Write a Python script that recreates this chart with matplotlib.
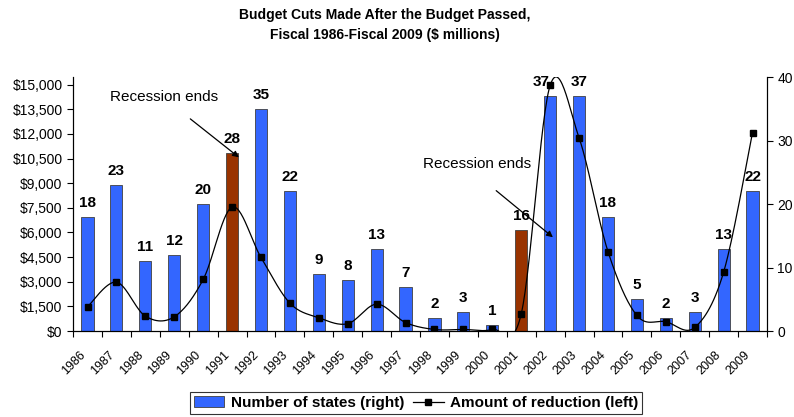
import numpy as np
import matplotlib
matplotlib.use("Agg")
import matplotlib.pyplot as plt
from matplotlib.ticker import FuncFormatter, FixedLocator
from matplotlib.lines import Line2D

plt.rcParams["font.family"] = ["Liberation Sans", "DejaVu Sans"]

years = [str(y) for y in range(1986, 2010)]
num_states = [18, 23, 11, 12, 20, 28, 35, 22, 9, 8, 13, 7,
              2, 3, 1, 16, 37, 37, 18, 5, 2, 3, 13, 22]
reduction = [1480, 2980, 910, 870, 3140, 7540, 4480, 1700, 810, 450, 1640, 520,
             100, 100, 100, 1050, 14950, 11760, 4840, 950, 570, 220, 3590, 12080]
recession_years = ["1991", "2001"]

BLUE = "#3366FF"
BROWN = "#993300"


def smooth(xs, ys, n=30):
    # Excel-style smoothed line: cubic bezier through the points
    pts = np.column_stack([xs, ys]).astype(float)
    p = np.vstack([pts[0], pts, pts[-1]])
    out = []
    for i in range(1, len(p) - 2):
        p0, p1, p2, p3 = p[i - 1], p[i], p[i + 1], p[i + 2]
        c1 = p1 + (p2 - p0) / 6
        c2 = p2 - (p3 - p1) / 6
        t = np.linspace(0, 1, n)[:, None]
        seg = ((1 - t) ** 3) * p1 + 3 * ((1 - t) ** 2) * t * c1 + 3 * (1 - t) * t ** 2 * c2 + t ** 3 * p2
        out.append(seg if i == 1 else seg[1:])
    out = np.vstack(out)
    return out[:, 0], out[:, 1]


fig = plt.figure(figsize=(7.94, 4.17), dpi=100)
ax = fig.add_axes([0.092, 0.206, 0.874, 0.609])
x = np.arange(len(years))

colors = [BROWN if y in recession_years else BLUE for y in years]
bars = ax.bar(x, num_states, width=0.42, color=colors, edgecolor="#404040", linewidth=0.6)
labels = ax.bar_label(bars, padding=5, fontsize=11, fontweight="bold")
labels[years.index("2002")].xyann = (-6.5, 5)  # nudged left like the original
ax.set_ylim(0, 40)
ax.set_xlim(-0.5, len(years) - 0.5)

ax2 = ax.twinx()
sx, sy = smooth(x, reduction)
ax2.plot(sx, sy, color="black", linewidth=0.9)
ax2.plot(x, reduction, linestyle="none", marker="s", markersize=4.5, color="black")
ax2.set_ylim(0, 15450)

# bars read on the right axis, dollars on the left
ax.yaxis.tick_right()
ax2.yaxis.tick_left()
ax.set_yticks([0, 10, 20, 30, 40])
ax2.set_yticks(np.arange(0, 15001, 1500))
ax2.yaxis.set_major_formatter(FuncFormatter(lambda v, p: "${:,.0f}".format(v)))

for a in (ax, ax2):
    a.spines["top"].set_visible(False)
    a.tick_params(axis="y", labelsize=10, length=4, direction="out")

# x axis: ticks between categories, labels at centres
ax.xaxis.set_major_locator(FixedLocator(np.arange(-0.5, len(years), 1)))
ax.xaxis.set_minor_locator(FixedLocator(x))
ax.set_xticklabels([])
ax.set_xticklabels(years, minor=True, rotation=45, ha="right", va="top", fontsize=9)
ax.tick_params(axis="x", which="major", length=4)
ax.tick_params(axis="x", which="minor", length=0, pad=13)

arrow = dict(arrowstyle="-|>", color="black", lw=0.9, mutation_scale=9)
ax.annotate("", xy=(5.31, 27.1), xytext=(3.48, 33.7), arrowprops=arrow)
ax.text(0.78, 36.85, "Recession ends", fontsize=11, va="center")
ax.annotate("", xy=(16.17, 14.5), xytext=(14.06, 22.4), arrowprops=arrow)
ax.text(11.6, 26.3, "Recession ends", fontsize=11, va="center")

fig.text(385 / 794, 1 - 25 / 417, "Budget Cuts Made After the Budget Passed,\nFiscal 1986-Fiscal 2009 ($ millions)",
         ha="center", va="center", fontsize=10, fontweight="bold", linespacing=1.5)

line_handle = Line2D([], [], color="black", marker="s", markersize=4, linewidth=0.9)
leg = fig.legend([bars, line_handle], ["Number of states (right)", "Amount of reduction (left)"],
                 loc="center", bbox_to_anchor=(416 / 794, 1 - 403 / 417), ncol=2,
                 prop={"weight": "bold", "size": 11}, frameon=True, fancybox=False,
                 edgecolor="black", handlelength=2.0, columnspacing=0.6, handletextpad=0.4,
                 borderpad=0.25)
leg.get_frame().set_linewidth(0.8)

fig.savefig("out.png", dpi=100)
